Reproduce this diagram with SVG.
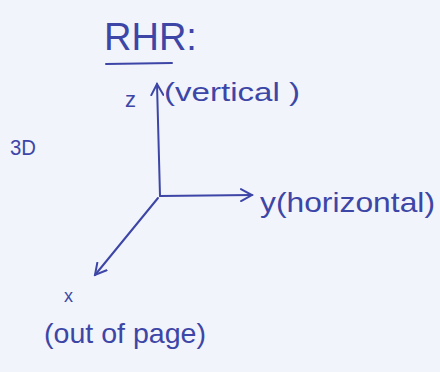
<svg xmlns="http://www.w3.org/2000/svg" width="440" height="372" viewBox="0 0 440 372">
<defs>
<style>
.ink{fill:#3d46a6;font-family:"Liberation Sans","DejaVu Sans",sans-serif}
.ax{stroke:#3d46a6;stroke-width:2;fill:none;stroke-linecap:round}
</style>
<marker id="ah" viewBox="0 0 14 14" refX="12" refY="7" markerWidth="14" markerHeight="14" markerUnits="userSpaceOnUse" orient="auto">
<path d="M1,1 L12,7 L1,13" fill="none" stroke="#3d46a6" stroke-width="2" stroke-linecap="round"/>
</marker>
</defs>
<rect width="440" height="372" fill="#f1f4fb"/>
<g id="title">
<text class="ink" x="104" y="50" font-size="38">RHR:</text>
<line x1="106" y1="64" x2="172" y2="63" class="ax" stroke-width="2.5"/>
</g>
<g id="label-3d"><text class="ink" x="10" y="155" font-size="22" textLength="26" lengthAdjust="spacingAndGlyphs">3D</text></g>
<g id="label-z"><text class="ink" x="125" y="107" font-size="22">z</text><text class="ink" x="164" y="101" font-size="26" textLength="136" lengthAdjust="spacingAndGlyphs">(vertical )</text></g>
<g id="label-y"><text class="ink" x="260" y="212" font-size="28" textLength="175" lengthAdjust="spacingAndGlyphs">y(horizontal)</text></g>
<g id="label-x"><text class="ink" x="64" y="302" font-size="18">x</text><text class="ink" x="44" y="343" font-size="28" textLength="162" lengthAdjust="spacingAndGlyphs">(out of page)</text></g>
<g id="connectors">
<path class="ax" d="M160,196 L157,84" marker-end="url(#ah)"/>
<path class="ax" d="M160,196 L252,195" marker-end="url(#ah)"/>
<path class="ax" d="M158,198 L95,275" marker-end="url(#ah)"/>
</g>
</svg>
